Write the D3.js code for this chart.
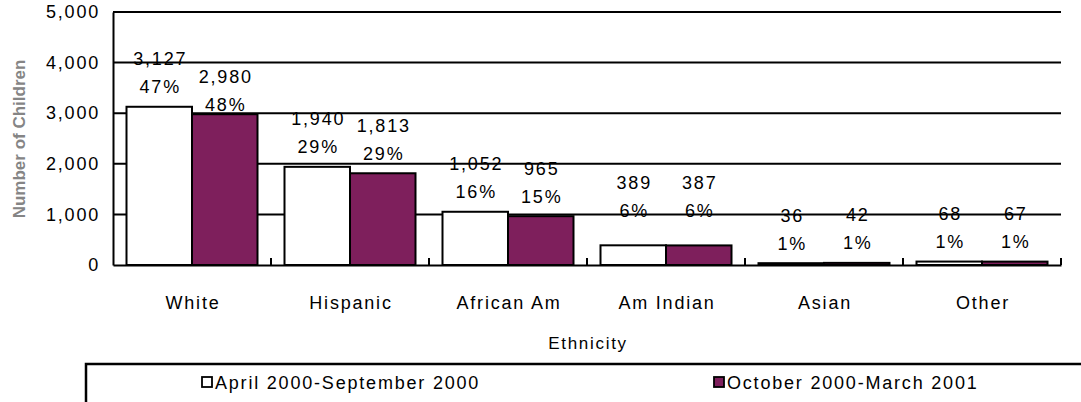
<!DOCTYPE html>
<meta charset="utf-8">
<head>
  <title>Children by Ethnicity</title>
</head>
<style>
body { margin: 0; background: #fff; }
svg text { font-family: "Liberation Sans", Arial, sans-serif; fill: #000; }
</style>

<script src="https://d3js.org/d3.v7.min.js"></script>

<div id="chart"></div>

<script>
// data
var categories = ["White", "Hispanic", "African Am", "Am Indian", "Asian", "Other"];
var seriesNames = ["April 2000-September 2000", "October 2000-March 2001"];
var aprSep = [3127, 1940, 1052, 389, 36, 68];
var octMar = [2980, 1813, 965, 387, 42, 67];
var aprSepPct = ["47%", "29%", "16%", "6%", "1%", "1%"];
var octMarPct = ["48%", "29%", "15%", "6%", "1%", "1%"];
var yTicks = [0, 1000, 2000, 3000, 4000, 5000];

var colors = ["#ffffff", "#7e1f5c"];

// a few labels were dragged by hand in the original, "cat|series" -> px
var labelShift = {"0|1": 10, "3|0": -15, "3|1": -15};

var W = 1081, H = 402;
var margin = {top: 12, right: 20, bottom: 137, left: 113},
    width = 948,
    height = H - margin.top - margin.bottom;

// the original text is Arial set loosely
var fs = "18px", ls = "1.8px";

var svg = d3.select("#chart")
  .append("svg")
    .attr("width", W)
    .attr("height", H);

var g = svg.append("g")
    .attr("transform", "translate(" + margin.left + "," + margin.top + ")");

var rows = categories.map(function(c, i) {
  return {cat: c, i: i, vals: [
    {s: 0, v: aprSep[i], pct: aprSepPct[i]},
    {s: 1, v: octMar[i], pct: octMarPct[i]}
  ]};
});

var x0 = d3.scaleBand()
    .domain(categories)
    .range([0, width]);

var x1 = d3.scaleBand()
    .domain([0, 1])
    .range([13.5, x0.bandwidth() - 13.5]);

var y = d3.scaleLinear()
    .domain([0, 5000])
    .range([height, 0]);

// gridlines
g.selectAll(".grid")
  .data(yTicks.slice(1))
  .enter()
  .append("line")
    .attr("x1", 0)
    .attr("x2", width)
    .attr("y1", function(d) { return y(d); })
    .attr("y2", function(d) { return y(d); })
    .attr("stroke", "#000")
    .attr("stroke-width", 2);

// y axis
var yAxis = g.append("g")
    .call(d3.axisLeft(y).tickValues(yTicks).tickFormat(d3.format(",")).tickSize(0).tickPadding(13));
yAxis.select(".domain").attr("stroke", "#000").attr("stroke-width", 2);
yAxis.selectAll("text")
    .style("font-size", fs)
    .style("letter-spacing", ls);

// bars
var groups = g.selectAll(".cat")
  .data(rows)
  .enter()
  .append("g")
    .attr("transform", function(d) { return "translate(" + x0(d.cat) + ",0)"; });

groups.selectAll("rect")
  .data(function(d) { return d.vals; })
  .enter()
  .append("rect")
    .attr("x", function(d) { return x1(d.s); })
    .attr("y", function(d) { return y(d.v); })
    .attr("width", x1.bandwidth())
    .attr("height", function(d) { return height - y(d.v); })
    .attr("fill", function(d) { return colors[d.s]; })
    .attr("stroke", "#000")
    .attr("stroke-width", 2);

// data labels: value on top, share underneath
groups.each(function(row) {
  d3.select(this).selectAll(".lbl")
    .data(row.vals)
    .enter()
    .append("g")
      .attr("transform", function(d) {
        var shift = labelShift[row.i + "|" + d.s] || 0;
        return "translate(" + (x1(d.s) + x1.bandwidth() / 2 + 1) + "," + (y(d.v) + shift) + ")";
      })
    .each(function(d) {
      var lg = d3.select(this);
      lg.append("text")
        .attr("y", -41.5)
        .attr("text-anchor", "middle")
        .style("font-size", fs)
        .style("letter-spacing", ls)
        .text(d3.format(",")(d.v));
      lg.append("text")
        .attr("y", -13.5)
        .attr("text-anchor", "middle")
        .style("font-size", fs)
        .style("letter-spacing", ls)
        .text(d.pct);
    });
});

// x axis
var xAxis = g.append("g")
    .attr("transform", "translate(0," + height + ")")
    .call(d3.axisBottom(x0).tickSize(0).tickPadding(31));
xAxis.select(".domain").attr("stroke", "#000").attr("stroke-width", 2);
xAxis.selectAll("text")
    .attr("dx", "1px")
    .style("font-size", fs)
    .style("letter-spacing", ls);

// small tick marks between categories
g.selectAll(".sep")
  .data(categories)
  .enter()
  .append("line")
    .attr("x1", function(d) { return x0(d) + x0.bandwidth(); })
    .attr("x2", function(d) { return x0(d) + x0.bandwidth(); })
    .attr("y1", height)
    .attr("y2", height - 7)
    .attr("stroke", "#000")
    .attr("stroke-width", 2);

// axis titles
svg.append("text")
    .attr("x", margin.left + width / 2 + 1)
    .attr("y", 349)
    .attr("text-anchor", "middle")
    .style("font-size", "17px")
    .style("letter-spacing", "1.7px")
    .text("Ethnicity");

svg.append("text")
    .attr("transform", "translate(25,139)rotate(-90)")
    .attr("text-anchor", "middle")
    .style("font-size", "17px")
    .style("font-weight", "bold")
    .style("fill", "#858585")
    .text("Number of Children");

// legend box runs off the bottom right edge
svg.append("rect")
    .attr("x", 86)
    .attr("y", 364)
    .attr("width", 1100)
    .attr("height", 100)
    .attr("fill", "none")
    .attr("stroke", "#000")
    .attr("stroke-width", 2.5);

var legX = [202, 714];
var leg = svg.selectAll(".leg")
  .data(seriesNames)
  .enter()
  .append("g")
    .attr("transform", function(d, i) { return "translate(" + legX[i] + ",382)"; });

leg.append("rect")
    .attr("x", 0)
    .attr("y", -5)
    .attr("width", 10)
    .attr("height", 10)
    .attr("fill", function(d, i) { return colors[i]; })
    .attr("stroke", "#000")
    .attr("stroke-width", 1.8);

leg.append("text")
    .attr("x", 13)
    .attr("y", 6.5)
    .style("font-size", fs)
    .style("letter-spacing", ls)
    .text(function(d) { return d; });
</script>
